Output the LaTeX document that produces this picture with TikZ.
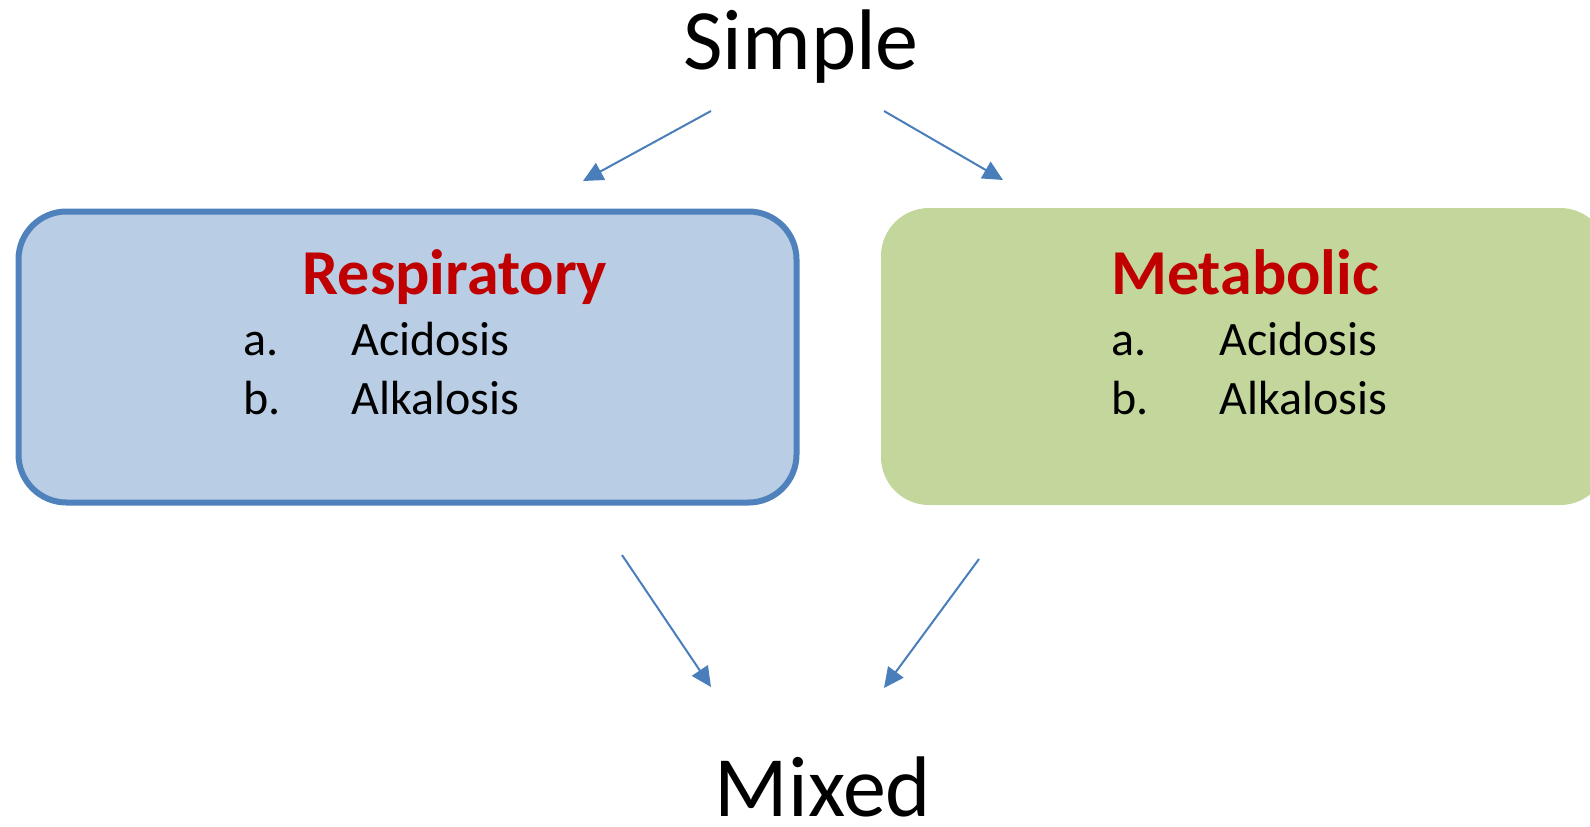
\documentclass[tikz,border=0pt]{standalone}
\usepackage{fontspec}
\setmainfont{Carlito}
\usetikzlibrary{arrows.meta}

\definecolor{respfill}{HTML}{B9CDE5}
\definecolor{respline}{HTML}{4F81BD}
\definecolor{metafill}{HTML}{C3D69B}
\definecolor{titlered}{HTML}{C00000}
\definecolor{arrowblue}{HTML}{4A7EBB}

\tikzset{
  box/.style={rectangle, rounded corners=24pt, inner sep=0pt},
  link/.style={arrowblue, line width=1pt, -{Triangle[length=10pt,width=9.5pt]}},
  big/.style={anchor=base, inner sep=0pt, font=\fontsize{43}{50}\selectfont},
  title/.style={anchor=base, inner sep=0pt, text=titlered, font=\fontsize{32}{38}\selectfont\bfseries},
  item/.style={anchor=base west, inner sep=0pt, font=\fontsize{24}{29}\selectfont}
}

\begin{document}
\begin{tikzpicture}[x=0.5pt, y=-0.5pt]
  \useasboundingbox (0,0) rectangle (1590,826);
  \clip (0,0) rectangle (1590,826);

  % the two boxes
  \node[box, fill=respfill, draw=respline, line width=3pt,
        minimum width=389pt, minimum height=145.5pt] (resp) at (407.5,357) {};
  \node[box, fill=metafill,
        minimum width=363.5pt, minimum height=148.5pt] (meta) at (1244.5,356.5) {};

  \node[big] (simple) at (801,69) {Simple};
  \node[big] (mixed) at (823,816) {Mixed};

  \node[title] (resptitle) at (455,294) {Respiratory};
  \node[item] (ra) at (243,355) {a.};
  \node[item] (racid) at (351,355) {Acidosis};
  \node[item] (rb) at (243,414) {b.};
  \node[item] (ralk) at (351,414) {Alkalosis};

  \node[title] (metatitle) at (1245,294) {Metabolic};
  \node[item] (ma) at (1111,355) {a.};
  \node[item] (macid) at (1219,355) {Acidosis};
  \node[item] (mb) at (1111,414) {b.};
  \node[item] (malk) at (1219,414) {Alkalosis};

  % arrow ends
  \coordinate (s1) at (711,111);
  \coordinate (t1) at (583,181);
  \coordinate (s2) at (884,111);
  \coordinate (t2) at (1003,180);
  \coordinate (s3) at (622,555);
  \coordinate (t3) at (711,687);
  \coordinate (s4) at (979,559);
  \coordinate (t4) at (884,688);

  \draw[link] (s1) -- (t1);
  \draw[link] (s2) -- (t2);
  \draw[link] (s3) -- (t3);
  \draw[link] (s4) -- (t4);
\end{tikzpicture}
\end{document}
